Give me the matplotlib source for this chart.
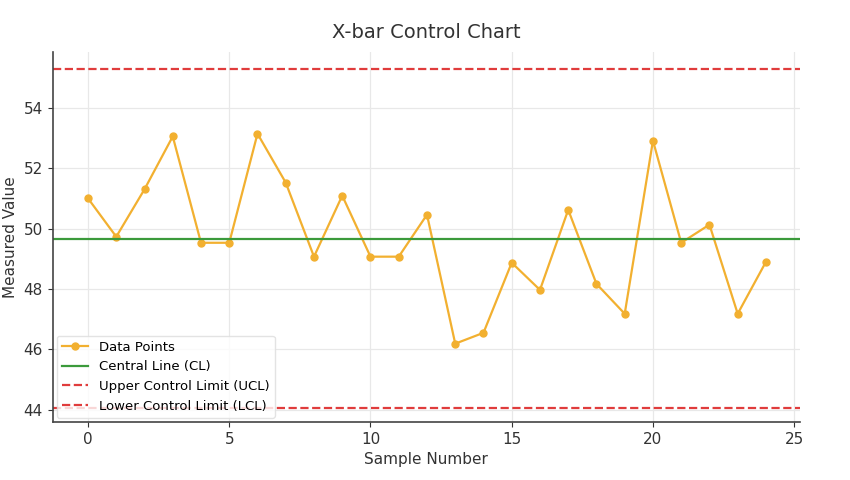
import matplotlib
matplotlib.use("Agg")
import matplotlib.pyplot as plt

# values
samples = list(range(25))
means = [51.0, 49.73, 51.3, 53.05, 49.53, 49.53, 53.14, 51.52, 49.07, 51.09,
         49.07, 49.07, 50.46, 46.19, 46.55, 48.87, 47.97, 50.62, 48.17, 47.18,
         52.91, 49.53, 50.13, 47.18, 48.9]
cl = 49.67
ucl = 55.29
lcl = 44.05

fig = plt.figure(figsize=(8.5, 4.8), dpi=100)
ax = fig.add_axes([0.062, 0.121, 0.879, 0.771])

ax.plot(samples, means, marker="o", markersize=5, color="#f2b030", lw=1.6,
        label="Data Points")
ax.axhline(cl, color="#3b9a3b", lw=1.6, label="Central Line (CL)")
ax.axhline(ucl, color="#e03c3c", lw=1.6, ls="--", label="Upper Control Limit (UCL)")
ax.axhline(lcl, color="#e03c3c", lw=1.6, ls="--", label="Lower Control Limit (LCL)")

ax.set_xlim(-1.25, 25.2)
ax.set_ylim(43.6, 55.85)
ax.set_xticks([0, 5, 10, 15, 20, 25])
ax.set_yticks([44, 46, 48, 50, 52, 54])
ax.grid(True, color="#e8e8e8", lw=0.9)
ax.set_axisbelow(True)
for s in ("top", "right"):
    ax.spines[s].set_visible(False)
for s in ("left", "bottom"):
    ax.spines[s].set_color("#444444")
    ax.spines[s].set_linewidth(1.2)
ax.tick_params(labelsize=11, colors="#333333")

ax.set_title("X-bar Control Chart", fontsize=14, color="#333333", pad=10)
ax.set_xlabel("Sample Number", fontsize=11, color="#333333")
ax.set_ylabel("Measured Value", fontsize=11, color="#333333")
ax.legend(loc="lower left", fontsize=9.5, frameon=True, edgecolor="#dddddd",
          borderaxespad=0.3)

fig.savefig("out.png")
